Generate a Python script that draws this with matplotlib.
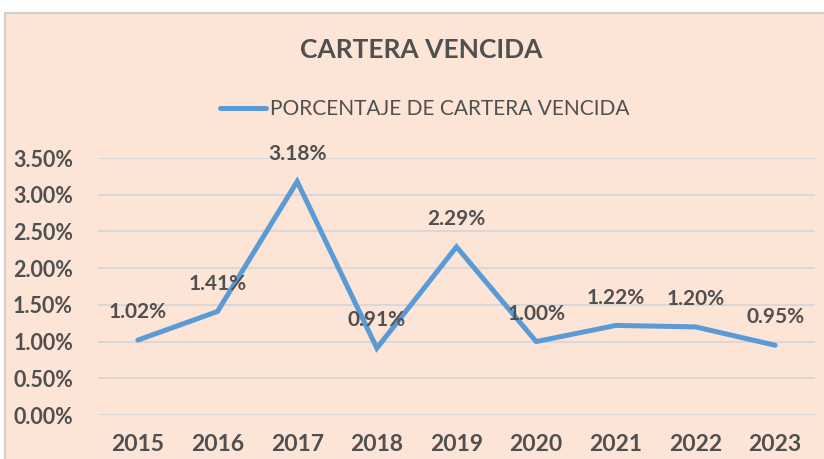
import matplotlib
matplotlib.use("Agg")
import matplotlib.pyplot as plt
from matplotlib.patches import Rectangle
from matplotlib.ticker import FuncFormatter, MultipleLocator

years = ["2015", "2016", "2017", "2018", "2019", "2020", "2021", "2022", "2023"]
values = [1.02, 1.41, 3.18, 0.91, 2.29, 1.00, 1.22, 1.20, 0.95]
labels = ["1.02%", "1.41%", "3.18%", "0.91%", "2.29%", "1.00%", "1.22%", "1.20%", "0.95%"]
series_name = "PORCENTAJE DE CARTERA VENCIDA"
title = "CARTERA VENCIDA"

W, H = 824, 459
fig = plt.figure(figsize=(W / 100, H / 100), dpi=100, facecolor="white")
peach = "#FCE4D6"
txt = "#505050"

bg = fig.add_axes([0, 0, 1, 1], zorder=-5)
bg.set_axis_off()
bg.set_xlim(0, W)
bg.set_ylim(H, 0)
bg.add_patch(Rectangle((5, 13), W + 10, H, facecolor=peach, edgecolor="#D0D0D0", linewidth=1.5))

ax = fig.add_axes([98 / W, 1 - 415 / H, (815 - 98) / W, (415 - 158) / H], zorder=1)
ax.set_facecolor("none")
x = list(range(len(years)))
line, = ax.plot(x, values, color="#5B9BD5", linewidth=3.6, solid_capstyle="round",
                solid_joinstyle="miter", label=series_name, zorder=3)
for xi, v, lab in zip(x, values, labels):
    ax.annotate(lab, (xi, v), xytext=(0, 20), textcoords="offset points", ha="center",
                va="center", fontsize=15, fontweight="bold", color=txt, family="Lato", zorder=4)

ax.set_xlim(-0.5, len(years) - 0.5)
ax.set_ylim(0, 3.5)
ax.yaxis.set_major_locator(MultipleLocator(0.5))
ax.yaxis.set_major_formatter(FuncFormatter(lambda v, p: f"{v:.2f}%"))
ax.set_xticks(x)
ax.set_xticklabels(years)
ax.grid(axis="y", color="#D5D5D8", linewidth=1.2)
ax.set_axisbelow(True)
for s in ax.spines.values():
    s.set_visible(False)
ax.tick_params(length=0)
ax.tick_params(axis="y", pad=18)
ax.tick_params(axis="x", pad=14)
for t in ax.get_yticklabels():
    t.set_fontfamily("Lato")
    t.set_fontweight("bold")
    t.set_fontsize(15.5)
    t.set_color(txt)
for t in ax.get_xticklabels():
    t.set_fontfamily("Lato")
    t.set_fontweight("bold")
    t.set_fontsize(16.5)
    t.set_color(txt)

fig.text(421 / W, 1 - 50 / H, title, ha="center", va="center", fontsize=19, fontweight="bold",
         color=txt, family="Lato")
leg = fig.legend(handles=[line], loc="center", bbox_to_anchor=(425 / W, 1 - 109 / H),
                 frameon=False, handlelength=2.2, handletextpad=0.2,
                 prop={"family": "Lato", "size": 15})
for t in leg.get_texts():
    t.set_color(txt)

fig.savefig("out.png", dpi=100, facecolor="white")
